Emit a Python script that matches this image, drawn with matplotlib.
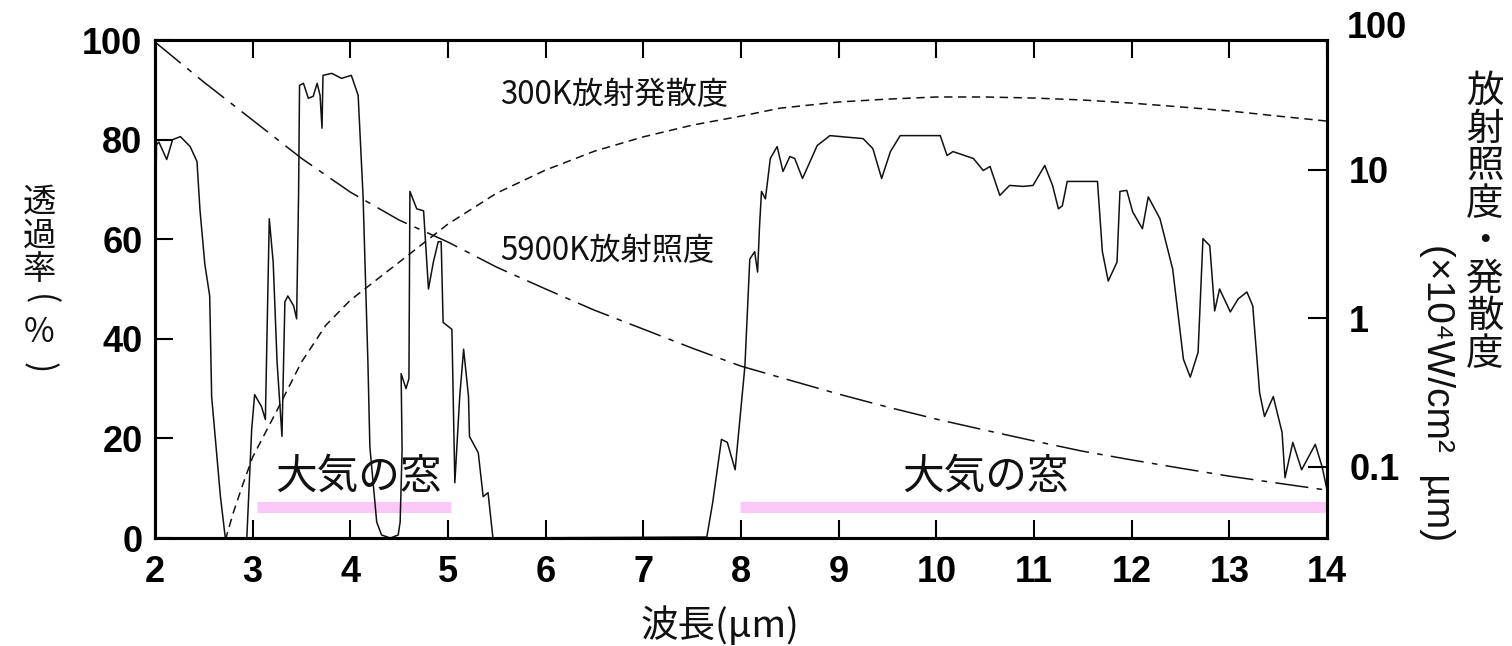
import matplotlib
matplotlib.use("Agg")
import matplotlib.pyplot as plt

plt.rcParams['font.family'] = ['Noto Sans CJK JP', 'DejaVu Sans']
plt.rcParams['lines.scale_dashes'] = False

# atmospheric transmittance (%)
wl_trans = [2.0, 2.015, 2.04, 2.12, 2.18, 2.26, 2.36, 2.43, 2.46, 2.51, 2.56, 2.58, 2.67, 2.72,
            2.94, 2.99, 3.02, 3.09, 3.13, 3.17, 3.21, 3.25, 3.30, 3.33, 3.36, 3.42, 3.45, 3.47,
            3.48, 3.52, 3.57, 3.62, 3.66, 3.69, 3.71, 3.72, 3.81, 3.91, 4.01, 4.08, 4.13, 4.18,
            4.20, 4.27, 4.32, 4.41, 4.49, 4.51, 4.53, 4.52, 4.57, 4.60, 4.61, 4.68, 4.75, 4.80,
            4.85, 4.90, 4.93, 4.95, 5.04, 5.07, 5.12, 5.16, 5.21, 5.22, 5.31, 5.36, 5.41, 5.46,
            7.65, 7.71, 7.80, 7.86, 7.94, 8.04, 8.09, 8.14, 8.17, 8.19, 8.21, 8.25, 8.30, 8.37,
            8.43, 8.50, 8.55, 8.63, 8.78, 8.91, 9.25, 9.35, 9.44, 9.53, 9.63, 10.04, 10.11, 10.17,
            10.38, 10.48, 10.55, 10.65, 10.75, 10.89, 10.99, 11.11, 11.19, 11.25, 11.29, 11.34,
            11.65, 11.70, 11.76, 11.85, 11.88, 11.95, 12.01, 12.11, 12.17, 12.29, 12.42, 12.53,
            12.60, 12.68, 12.73, 12.80, 12.85, 12.90, 13.01, 13.09, 13.18, 13.24, 13.31, 13.36,
            13.45, 13.54, 13.57, 13.65, 13.74, 13.88, 13.95, 14.0]
trans = [50, 79, 79.5, 76, 80, 80.6, 78.6, 75.6, 66, 55, 48.6, 28.4, 8.3, 0,
         0, 21.8, 28.8, 26.4, 23.8, 64.1, 55.4, 35.3, 20.4, 47.4, 48.6, 46.6, 44.0, 68.8,
         90.9, 91.3, 88.3, 88.7, 91.3, 88.9, 82.3, 92.9, 93.3, 92.3, 92.9, 88.9, 68.8, 35.3,
         18.3, 3.2, 0.6, 0, 0.6, 3.2, 17.7, 33, 30, 32, 69.6, 66.1, 65.7, 50,
         55.4, 59.5, 59.5, 43.3, 41.9, 11.1, 28.4, 37.9, 28.4, 20.4, 17.1, 8.3, 9.1, 0,
         0.2, 7.1, 19.8, 19.2, 13.7, 34.5, 56, 57.5, 53.4, 62.7, 69.6, 68.1, 76.2, 78.6,
         73.6, 76.6, 76.2, 72.2, 78.8, 80.8, 80.2, 78.2, 72.2, 77.6, 80.8, 80.8, 76.8, 77.6,
         76.2, 73.8, 74.6, 68.8, 70.8, 70.6, 70.8, 74.8, 70.8, 66.1, 66.7, 71.6,
         71.6, 57.5, 51.6, 55.4, 69.6, 69.8, 65.5, 62.1, 68.5, 64.1, 54.0, 35.9,
         32.3, 37.3, 60.1, 58.7, 45.6, 50.0, 45.4, 48.0, 49.4, 46.6, 29.2, 24.4,
         28.4, 21.2, 12.1, 19.2, 13.7, 18.8, 14.3, 9.7]

# 5900K irradiance and 300K emittance (x10^4 W/cm2 um)
wl_5900 = [2.0, 2.5, 3.0, 3.5, 4.0, 4.5, 5.0, 5.5, 6.0, 6.5, 7.0, 7.5, 8.0, 8.5, 9.0,
           9.5, 10.0, 10.5, 11.0, 11.5, 12.0, 12.5, 13.0, 13.5, 14.0]
irr_5900 = [72.2, 38.8, 21.5, 11.9, 7.05, 4.57, 3.25, 2.20, 1.57, 1.13, 0.843, 0.628, 0.475,
            0.382, 0.308, 0.252, 0.209, 0.176, 0.149, 0.127, 0.111, 0.0977, 0.0863, 0.0774, 0.0695]

wl_300 = [2.72, 2.8, 2.9, 3.0, 3.25, 3.5, 3.75, 4.0, 4.5, 5.0, 5.5, 6.0, 6.5, 7.0, 7.5,
          8.0, 8.4, 9.0, 9.5, 10.0, 10.5, 11.0, 11.5, 12.0, 12.5, 13.0, 13.5, 14.0]
emit_300 = [0.032, 0.0486, 0.0762, 0.116, 0.240, 0.506, 0.897, 1.32, 2.38, 4.30, 6.95, 9.93,
            13.3, 16.6, 19.9, 22.9, 25.9, 28.5, 29.8, 30.8, 30.8, 30.3, 29.4, 28.0, 26.4,
            24.8, 22.9, 21.2]

# atmospheric windows
win_start = [3.04, 7.99]
win_end = [5.03, 14.0]
win_label_x = [4.08, 10.5]
win_label = '大気の窓'

x_ticks = list(range(2, 15))
y_ticks = [0, 20, 40, 60, 80, 100]
y2_ticks = [0.1, 1, 10]
y2_labels = ['0.1', '1', '10']

tick_font = dict(family=['Liberation Sans', 'DejaVu Sans'], weight='bold', size=26)
ink = '#111111'

fig = plt.figure(figsize=(15.12, 6.46), dpi=100)
ax = fig.add_axes([155/1512, 108/646, 1172/1512, 498/646])
ax2 = ax.twinx()

ax.plot(wl_trans, trans, color=ink, lw=1.1)
for s, e in zip(win_start, win_end):
    ax.hlines(6.15, s, e, color='#f9c8f6', lw=8, capstyle='butt', zorder=1)
for xl in win_label_x:
    ax.text(xl, 12.3, win_label, ha='center', va='center', fontsize=30, color=ink)

ax.text(5.53, 89, '300K放射発散度', ha='left', va='center', fontsize=22.5, color=ink)
ax.text(5.53, 57.7, '5900K放射照度', ha='left', va='center', fontsize=22.5, color=ink)

ax2.set_yscale('log')
ax2.plot(wl_5900, irr_5900, color=ink, lw=1.1, dashes=(24, 6, 4, 6))
ax2.plot(wl_300, emit_300, color=ink, lw=1.1, dashes=(6, 4))

ax.set_xlim(2, 14)
ax.set_ylim(0, 100)
ax2.set_ylim(0.0331, 74.5)

ax.set_xticks(x_ticks)
ax.set_xticklabels([str(t) for t in x_ticks], fontdict=tick_font)
ax.set_yticks(y_ticks)
ax.set_yticklabels([str(t) for t in y_ticks], fontdict=tick_font)
ax2.set_yticks(y2_ticks)
ax2.set_yticklabels(y2_labels, fontdict=tick_font)
ax2.yaxis.set_minor_locator(plt.NullLocator())

ax.tick_params(axis='x', direction='in', length=13, width=1.5, top=True, pad=12)
ax.tick_params(axis='y', direction='in', length=13, width=1.5, pad=9)
ax2.tick_params(axis='y', direction='in', length=14, width=1.5, pad=16)
for a in (ax, ax2):
    for sp in a.spines.values():
        sp.set_linewidth(2.2)

# label 100 of the right axis, sitting above the frame
fig.text(1347/1512, 1 - 28/646, '100', ha='left', va='center', **tick_font)

fig.text(720/1512, 1 - 626/646, '波長(μm)', ha='center', va='center', fontsize=27, color=ink)

# left axis title, written vertically
fig.text(39/1512, 1 - 236/646, '\n'.join('透過率'),
         ha='center', va='center', fontsize=24, linespacing=0.95, color=ink)
fig.text(39/1512, 1 - 300/646, '(', ha='center', va='center', rotation=270,
         fontsize=24, color=ink)
fig.text(39/1512, 1 - 333/646, '%', ha='center', va='center', fontsize=24, color=ink)
fig.text(39/1512, 1 - 368/646, ')', ha='center', va='center', rotation=270,
         fontsize=24, color=ink)

# right axis title, two columns
fig.text(1485/1512, 1 - 223/646, '\n'.join('放射照度・発散度'),
         ha='center', va='center', fontsize=27, linespacing=0.95, color=ink)
fig.text(1437/1512, 1 - 393/646, '(×10⁴W/cm²  µm)', ha='center', va='center', rotation=270,
         fontsize=28, family=['Liberation Sans', 'DejaVu Sans'], color=ink)

fig.savefig('out.png', dpi=100)
